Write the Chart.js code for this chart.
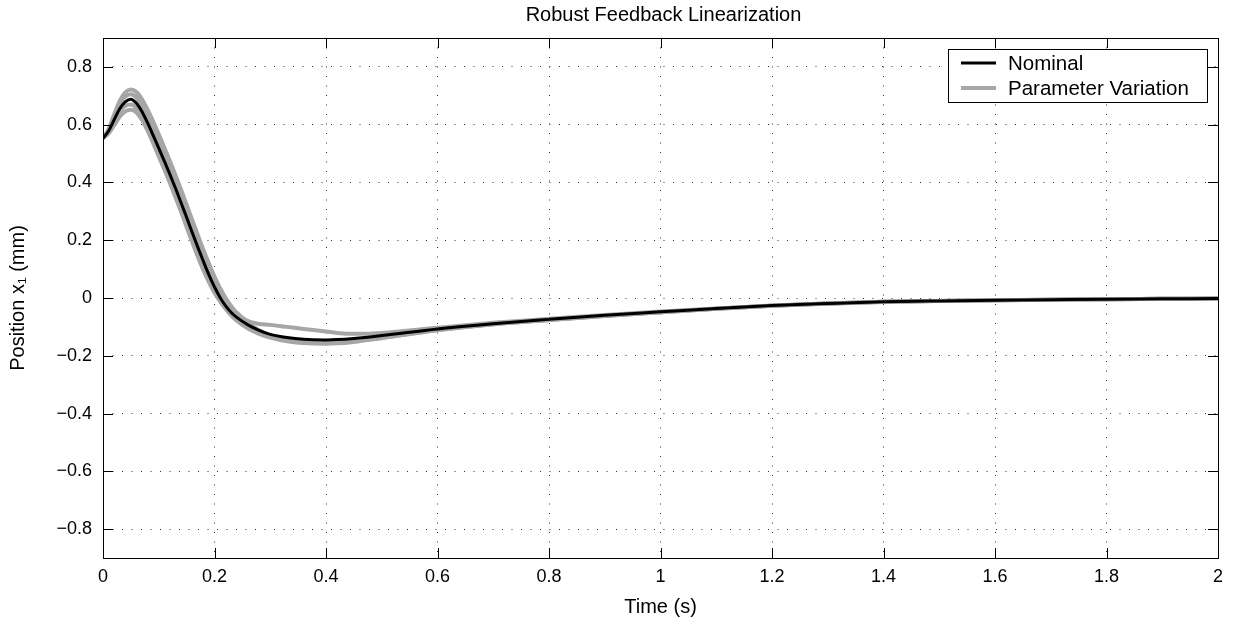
<!DOCTYPE html>
<html>
<head>
<meta charset="utf-8">
<title>Robust Feedback Linearization</title>
<script src="https://cdn.jsdelivr.net/npm/chart.js@4/dist/chart.umd.min.js"></script>
<style>
  html, body { margin: 0; padding: 0; background: #fff; }
  canvas { display: block; }
</style>
</head>
<body>
<canvas id="grafica" width="1235" height="624"></canvas>
<script>
// time samples (s)
const time = [0, 0.01, 0.02, 0.03, 0.04, 0.05, 0.06, 0.07, 0.08, 0.09,
  0.10, 0.11, 0.12, 0.13, 0.14, 0.15, 0.16, 0.17, 0.18, 0.19,
  0.20, 0.21, 0.22, 0.23, 0.24,
  0.26, 0.28, 0.30,
  0.33, 0.36, 0.40, 0.42, 0.45, 0.50,
  0.6, 0.7, 0.8, 0.9, 1.0, 1.1, 1.2, 1.3, 1.4, 1.5, 1.6, 1.7, 1.8, 1.9, 2.0];

// position x1 (mm)
const nominal = [0.553, 0.578, 0.617, 0.655, 0.679, 0.688, 0.674, 0.645, 0.606, 0.563,
  0.519, 0.474, 0.428, 0.380, 0.330, 0.279, 0.227, 0.176, 0.127, 0.080,
  0.038, 0.002, -0.027, -0.050, -0.067,
  -0.093, -0.112, -0.126,
  -0.137, -0.143, -0.145, -0.144, -0.140, -0.130,
  -0.107, -0.089, -0.074, -0.060, -0.048, -0.036, -0.026, -0.019, -0.013, -0.010, -0.008, -0.006, -0.004, -0.003, -0.002];

// parameter variation runs
const variationA = [0.553, 0.585, 0.635, 0.682, 0.712, 0.722, 0.713, 0.688, 0.652, 0.611,
  0.567, 0.521, 0.474, 0.425, 0.375, 0.323, 0.270, 0.218, 0.167, 0.119,
  0.074, 0.034, 0.000, -0.028, -0.051,
  -0.086, -0.112, -0.130,
  -0.146, -0.153, -0.155, -0.154, -0.149, -0.137,
  -0.111, -0.091, -0.076, -0.062, -0.049, -0.037, -0.027, -0.019, -0.013, -0.010, -0.008, -0.006, -0.004, -0.003, -0.002];

const variationB = [0.553, 0.570, 0.598, 0.627, 0.646, 0.652, 0.642, 0.616, 0.579, 0.536,
  0.490, 0.445, 0.398, 0.349, 0.298, 0.246, 0.194, 0.144, 0.097, 0.055,
  0.018, -0.012, -0.037, -0.058, -0.075,
  -0.100, -0.118, -0.131,
  -0.143, -0.149, -0.150, -0.149, -0.145, -0.134,
  -0.110, -0.090, -0.075, -0.061, -0.049, -0.037, -0.027, -0.020, -0.014, -0.010, -0.008, -0.006, -0.004, -0.003, -0.002];

const variationC = [0.553, 0.580, 0.626, 0.669, 0.697, 0.705, 0.694, 0.667, 0.628, 0.585,
  0.540, 0.494, 0.446, 0.397, 0.346, 0.294, 0.242, 0.191, 0.142, 0.097,
  0.057, 0.022, -0.008, -0.033, -0.053,
  -0.080, -0.090, -0.093,
  -0.100, -0.107, -0.116, -0.121, -0.124, -0.121,
  -0.103, -0.086, -0.072, -0.059, -0.047, -0.036, -0.026, -0.019, -0.013, -0.010, -0.008, -0.006, -0.004, -0.003, -0.002];

const variationD = [0.553, 0.575, 0.612, 0.645, 0.665, 0.670, 0.658, 0.630, 0.592, 0.549,
  0.504, 0.457, 0.409, 0.359, 0.307, 0.254, 0.201, 0.150, 0.102, 0.060,
  0.022, -0.010, -0.037, -0.060, -0.079,
  -0.106, -0.124, -0.137,
  -0.150, -0.156, -0.158, -0.157, -0.152, -0.139,
  -0.112, -0.091, -0.076, -0.062, -0.049, -0.037, -0.027, -0.019, -0.013, -0.010, -0.008, -0.006, -0.004, -0.003, -0.002];

const xTickValues = [0, 0.2, 0.4, 0.6, 0.8, 1, 1.2, 1.4, 1.6, 1.8, 2];
const xTickLabels = ['0', '0.2', '0.4', '0.6', '0.8', '1', '1.2', '1.4', '1.6', '1.8', '2'];
const yTickValues = [-0.8, -0.6, -0.4, -0.2, 0, 0.2, 0.4, 0.6, 0.8];
const yTickLabels = ['\u22120.8', '\u22120.6', '\u22120.4', '\u22120.2', '0', '0.2', '0.4', '0.6', '0.8'];

const chartTitle = 'Robust Feedback Linearization';

const FONT = "'Liberation Sans', Arial, Helvetica, sans-serif";
const GRAY = '#a6a6a6';

const toPoints = ys => time.map((t, i) => ({x: t, y: ys[i]}));

const variationSet = (ys, label) => ({
  label: label,
  data: toPoints(ys),
  borderColor: GRAY,
  borderWidth: 4,
  pointRadius: 0,
  cubicInterpolationMode: 'monotone',
  showInLegend: !!label
});

// title centred over the axes, like matlab does it
const axesTitle = {
  id: 'axesTitle',
  afterDraw(chart) {
    const {ctx, chartArea: a} = chart;
    ctx.save();
    ctx.font = '20px ' + FONT;
    ctx.fillStyle = '#000';
    ctx.textAlign = 'center';
    ctx.textBaseline = 'middle';
    ctx.fillText(chartTitle, (a.left + a.right) / 2 + 3, 15);
    ctx.restore();
  }
};

// box round the axes plus inward tick marks
const axesBox = {
  id: 'axesBox',
  afterDraw(chart) {
    const {ctx, chartArea: a, scales} = chart;
    ctx.save();
    ctx.strokeStyle = '#000';
    ctx.lineWidth = 1;
    ctx.strokeRect(Math.round(a.left) + 0.5, Math.round(a.top) + 0.5,
      Math.round(a.right - a.left), Math.round(a.bottom - a.top));
    ctx.beginPath();
    xTickValues.forEach(v => {
      const px = Math.round(scales.x.getPixelForValue(v)) + 0.5;
      ctx.moveTo(px, a.bottom); ctx.lineTo(px, a.bottom - 10);
      ctx.moveTo(px, a.top); ctx.lineTo(px, a.top + 10);
    });
    yTickValues.forEach(v => {
      const py = Math.round(scales.y.getPixelForValue(v)) + 0.5;
      ctx.moveTo(a.left, py); ctx.lineTo(a.left + 10, py);
      ctx.moveTo(a.right, py); ctx.lineTo(a.right - 10, py);
    });
    ctx.stroke();
    ctx.restore();
  }
};

// boxed legend in the upper right corner
const boxLegend = {
  id: 'boxLegend',
  afterDraw(chart) {
    const {ctx, chartArea: a} = chart;
    const items = chart.data.datasets.filter(d => d.showInLegend);
    const w = 259, h = 53;
    const x0 = a.right - 11 - w, y0 = a.top + 11;
    ctx.save();
    ctx.fillStyle = '#fff';
    ctx.fillRect(x0, y0, w, h);
    ctx.strokeStyle = '#000';
    ctx.lineWidth = 1;
    ctx.strokeRect(Math.round(x0) + 0.5, Math.round(y0) + 0.5, w, h);
    ctx.font = '20.5px ' + FONT;
    ctx.textBaseline = 'middle';
    items.forEach((d, i) => {
      const y = y0 + 14 + i * 25;
      ctx.strokeStyle = d.borderColor;
      ctx.lineWidth = d.borderWidth;
      ctx.beginPath();
      ctx.moveTo(x0 + 13, y); ctx.lineTo(x0 + 48, y);
      ctx.stroke();
      ctx.fillStyle = '#000';
      ctx.fillText(d.label, x0 + 60, y + 1);
    });
    ctx.restore();
  }
};

const data = {
  datasets: [
    {
      label: 'Nominal',
      data: toPoints(nominal),
      borderColor: '#000',
      borderWidth: 3,
      pointRadius: 0,
      cubicInterpolationMode: 'monotone',
      showInLegend: true
    },
    variationSet(variationA, 'Parameter Variation'),
    variationSet(variationB),
    variationSet(variationC),
    variationSet(variationD)
  ]
};

const config = {
  type: 'line',
  data: data,
  options: {
    responsive: false,
    animation: false,
    devicePixelRatio: 1,
    layout: {padding: {left: 0, right: 17, top: 38, bottom: 0}},
    plugins: {
      legend: {display: false},
      tooltip: {enabled: false},
      title: {display: false}
    },
    scales: {
      x: {
        type: 'linear',
        min: 0,
        max: 2,
        afterFit: s => { s.height = 66; },
        afterBuildTicks: s => { s.ticks = xTickValues.map(v => ({value: v})); },
        ticks: {
          color: '#000',
          font: {family: FONT, size: 18},
          padding: 8,
          maxRotation: 0,
          callback: (v, i) => xTickLabels[i]
        },
        grid: {color: '#333', lineWidth: 1, drawTicks: false},
        border: {display: false, dash: [1, 8.5]},
        title: {
          display: true,
          text: 'Time (s)',
          color: '#000',
          font: {family: FONT, size: 20},
          padding: 5
        }
      },
      y: {
        type: 'linear',
        min: -0.9,
        max: 0.9,
        afterFit: s => { s.width = 103; },
        afterBuildTicks: s => { s.ticks = yTickValues.map(v => ({value: v})); },
        ticks: {
          color: '#000',
          font: {family: FONT, size: 18},
          padding: 11,
          callback: (v, i) => yTickLabels[i]
        },
        grid: {color: '#333', lineWidth: 1, drawTicks: false},
        border: {display: false, dash: [1, 8.5]},
        title: {
          display: true,
          text: 'Position x\u2081 (mm)',
          color: '#000',
          font: {family: FONT, size: 20},
          padding: 6
        }
      }
    }
  },
  plugins: [axesBox, boxLegend, axesTitle]
};

new Chart(document.getElementById('grafica'), config);
</script>
</body>
</html>
